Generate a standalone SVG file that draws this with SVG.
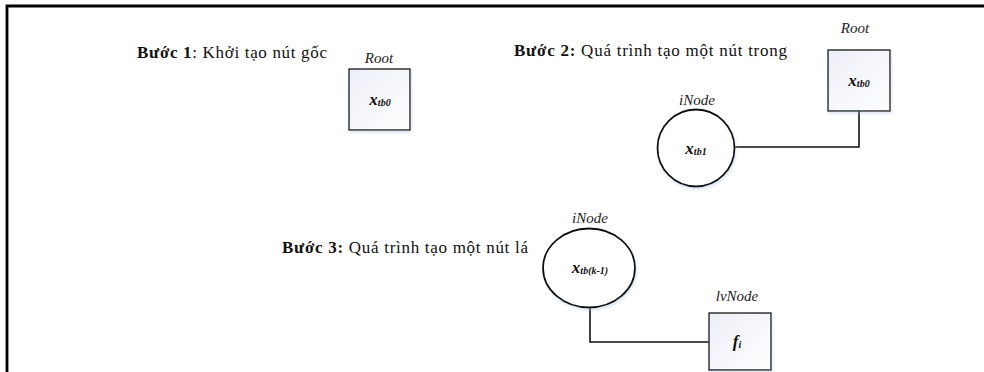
<svg xmlns="http://www.w3.org/2000/svg" width="984" height="372" viewBox="0 0 984 372">
  <defs>
    <linearGradient id="boxFill" x1="0" y1="0" x2="1" y2="1">
      <stop offset="0" stop-color="#eceff7"/>
      <stop offset="1" stop-color="#ffffff"/>
    </linearGradient>
    <filter id="soft" x="-20%" y="-20%" width="140%" height="140%">
      <feDropShadow dx="1" dy="2" stdDeviation="1.5" flood-color="#a9bbd6" flood-opacity="0.4"/>
    </filter>
  </defs>
  <style>
    text { font-family: "Liberation Serif", "DejaVu Serif", serif; fill: #111; }
    .step { font-size: 17px; }
    .step .b { font-weight: bold; }
    .tag { font-size: 15px; font-style: italic; fill: #222; }
    .var { font-size: 17px; font-weight: bold; font-style: italic; }
    .sub { font-size: 10px; }
    .box { fill: url(#boxFill); stroke: #222; stroke-width: 1.4; filter: url(#soft); }
    .ring { fill: #fff; stroke: #111; stroke-width: 1.8; filter: url(#soft); }
    .wire { fill: none; stroke: #111; stroke-width: 1.6; }
    .frame { fill: none; stroke: #000; stroke-width: 2.8; }
  </style>

  <rect width="984" height="372" fill="#fff"/>

  <!-- outer frame (top and left edges) -->
  <path class="frame" d="M7,372 V6 H984"/>

  <!-- step captions -->
  <text class="step" x="137" y="58" textLength="190" lengthAdjust="spacing"><tspan class="b">Bước 1</tspan>: Khởi tạo nút gốc</text>
  <text class="step" x="514" y="56" textLength="273" lengthAdjust="spacing"><tspan class="b">Bước 2:</tspan> Quá trình tạo một nút trong</text>
  <text class="step" x="282" y="253" textLength="246" lengthAdjust="spacing"><tspan class="b">Bước 3:</tspan> Quá trình tạo một nút lá</text>

  <!-- connectors -->
  <g id="connectors">
    <path class="wire" d="M735,147 H859 V111"/>
    <path class="wire" d="M590,307 V342 H709"/>
  </g>

  <!-- step 1: root -->
  <g id="root1">
    <text class="tag" x="379" y="63" text-anchor="middle">Root</text>
    <rect class="box" x="349" y="69" width="61" height="61"/>
    <text class="var" x="380" y="105" text-anchor="middle">x<tspan class="sub" dy="1">tb0</tspan></text>
  </g>

  <!-- step 2: root -->
  <g id="root2">
    <text class="tag" x="855" y="33" text-anchor="middle">Root</text>
    <rect class="box" x="828" y="50" width="62" height="61"/>
    <text class="var" x="859" y="86" text-anchor="middle">x<tspan class="sub" dy="1">tb0</tspan></text>
  </g>

  <!-- step 2: inner node -->
  <g id="inode1">
    <text class="tag" x="697" y="105" text-anchor="middle">iNode</text>
    <circle class="ring" cx="696" cy="148" r="38.5"/>
    <text class="var" x="696" y="154" text-anchor="middle">x<tspan class="sub" dy="1">tb1</tspan></text>
  </g>

  <!-- step 3: inner node -->
  <g id="inode2">
    <text class="tag" x="590" y="223" text-anchor="middle">iNode</text>
    <ellipse class="ring" cx="589" cy="268" rx="46" ry="39.5"/>
    <text class="var" x="590" y="273" text-anchor="middle">x<tspan class="sub" dy="1">tb(k-1)</tspan></text>
  </g>

  <!-- step 3: leaf node -->
  <g id="leaf">
    <text class="tag" x="737" y="301" text-anchor="middle">lvNode</text>
    <rect class="box" x="709" y="313" width="62" height="57"/>
    <text class="var" x="737" y="347" text-anchor="middle">f<tspan class="sub" dy="1">i</tspan></text>
  </g>
</svg>
